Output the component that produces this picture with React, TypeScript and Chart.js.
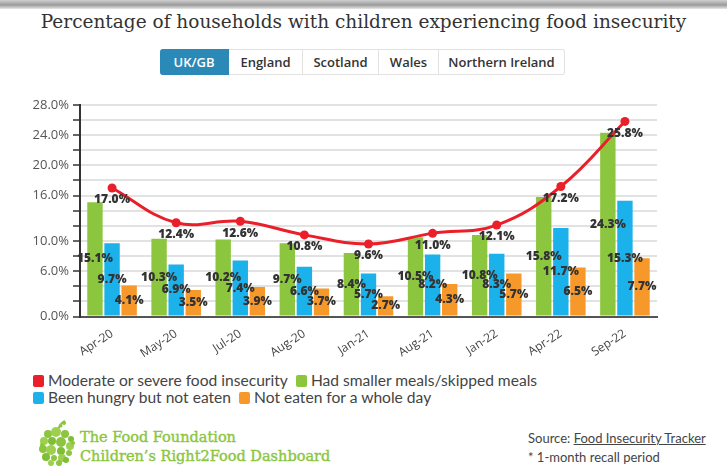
import React, { useEffect, useRef } from "react";
import { Chart, registerables } from "chart.js";

Chart.register(...registerables);

const categories = ["Apr-20", "May-20", "Jul-20", "Aug-20", "Jan-21", "Aug-21", "Jan-22", "Apr-22", "Sep-22"];
const moderateSevere = [17.0, 12.4, 12.6, 10.8, 9.6, 11.0, 12.1, 17.2, 25.8];
const smallerMeals = [15.1, 10.3, 10.2, 9.7, 8.4, 10.5, 10.8, 15.8, 24.3];
const hungryNotEaten = [9.7, 6.9, 7.4, 6.6, 5.7, 8.2, 8.3, 11.7, 15.3];
const notEatenDay = [4.1, 3.5, 3.9, 3.7, 2.7, 4.3, 5.7, 6.5, 7.7];
const seriesNames = [
  "Moderate or severe food insecurity",
  "Had smaller meals/skipped meals",
  "Been hungry but not eaten",
  "Not eaten for a whole day",
];
const seriesColors = ["#ea1f2a", "#8cc63f", "#1bb1ea", "#f7982b"];
const yTickLabels = [0, 6, 10, 16, 20, 24, 28];
const tabs = ["UK/GB", "England", "Scotland", "Wales", "Northern Ireland"];
const tabWidths = [69, 74, 76, 60, 126];

const valueLabels = {
  id: "valueLabels",
  afterDatasetsDraw(chart: any) {
    const ctx = chart.ctx;
    ctx.save();
    ctx.font = "800 12px 'Open Sans'";
    ctx.fillStyle = "#333";
    ctx.textAlign = "center";
    ctx.textBaseline = "middle";
    chart.data.datasets.forEach((ds: any, i: number) => {
      const meta = chart.getDatasetMeta(i);
      meta.data.forEach((el: any, j: number) => {
        const txt = Number(ds.data[j]).toFixed(1) + "%";
        if (meta.type === "line") {
          ctx.fillText(txt, el.x, el.y + 12);
        } else {
          ctx.fillText(txt, el.x, (el.y + el.base) / 2);
        }
      });
    });
    ctx.restore();
  },
};

function Logo() {
  const circles: [number, number, number, string][] = [
    [10, 14, 4, "#8cc63f"], [18, 12, 5, "#9dd04f"], [27, 14, 4, "#8cc63f"], [33, 19, 3, "#7fbf35"],
    [6, 21, 4, "#9dd04f"], [14, 21, 4, "#7fbf35"], [23, 22, 5, "#8cc63f"], [32, 26, 4, "#9dd04f"],
    [5, 29, 4, "#8cc63f"], [13, 30, 5, "#9dd04f"], [23, 31, 4, "#7fbf35"], [31, 33, 3, "#8cc63f"],
    [8, 37, 4, "#7fbf35"], [16, 38, 3, "#8cc63f"], [24, 38, 4, "#9dd04f"], [13, 43, 3, "#9dd04f"],
    [21, 43, 3, "#8cc63f"], [28, 40, 3, "#7fbf35"], [4, 25, 2, "#8cc63f"], [35, 23, 2, "#8cc63f"],
  ];
  return (
    <svg width="40" height="48" viewBox="0 0 40 48" style={{ position: "absolute", left: 38, top: 420 }}>
      <path d="M20 10 Q22 3 27 1" stroke="#8cc63f" strokeWidth="2" fill="none" />
      <circle cx="26" cy="3" r="2" fill="#8cc63f" />
      <circle cx="23" cy="6" r="1.5" fill="#8cc63f" />
      {circles.map((c, i) => (
        <circle key={i} cx={c[0]} cy={c[1]} r={c[2]} fill={c[3]} />
      ))}
    </svg>
  );
}

export default function App() {
  const canvasRef = useRef<HTMLCanvasElement | null>(null);

  useEffect(() => {
    if (!canvasRef.current) return;
    const chart = new Chart(canvasRef.current, {
      type: "bar",
      data: {
        labels: categories,
        datasets: [
          {
            type: "line",
            label: seriesNames[0],
            data: moderateSevere,
            borderColor: seriesColors[0],
            backgroundColor: seriesColors[0],
            borderWidth: 3,
            pointRadius: 4.5,
            pointBackgroundColor: seriesColors[0],
            pointBorderWidth: 0,
            tension: 0.4,
            order: 0,
          } as any,
          { label: seriesNames[1], data: smallerMeals, backgroundColor: seriesColors[1], order: 1 },
          { label: seriesNames[2], data: hungryNotEaten, backgroundColor: seriesColors[2], order: 1 },
          { label: seriesNames[3], data: notEatenDay, backgroundColor: seriesColors[3], order: 1 },
        ],
      },
      options: {
        animation: false,
        responsive: false,
        maintainAspectRatio: false,
        datasets: { bar: { categoryPercentage: 0.8, barPercentage: 0.9 } },
        layout: { padding: { top: 0, right: 13, left: 0, bottom: 0 } },
        scales: {
          x: {
            grid: { display: false },
            border: { display: true, color: "#555", width: 2 },
            ticks: {
              color: "#444",
              font: { family: "'Open Sans'", size: 12 },
              minRotation: 33,
              maxRotation: 33,
              padding: 2,
            },
          },
          y: {
            min: 0,
            max: 28,
            afterFit: (scale: any) => {
              scale.width = 55;
            },
            grid: { color: "#e2e2e2", lineWidth: 2, tickColor: "#333", tickLength: 7, tickWidth: 1.5 },
            border: { display: true, color: "#333", width: 2 },
            ticks: {
              stepSize: 2,
              autoSkip: false,
              color: "#555",
              padding: 4,
              font: { family: "'Open Sans'", size: 13 },
              callback: (v: any) => (yTickLabels.includes(Number(v)) ? Number(v).toFixed(1) + "%" : ""),
            },
          },
        },
        plugins: {
          tooltip: { enabled: false },
          legend: { display: false },
        },
      },
      plugins: [valueLabels],
    });
    return () => chart.destroy();
  }, []);

  let x = 160;
  return (
    <div style={{ position: "absolute", left: 0, top: 0, width: 727, height: 468, background: "#fff", overflow: "hidden" }}>
      <div
        style={{
          position: "absolute",
          left: 0,
          top: 0,
          width: 727,
          height: 9,
          background: "linear-gradient(to bottom, #d0d0d0 0%, #9a9a9a 55%, #e8e8e8 100%)",
        }}
      />
      <div
        style={{
          position: "absolute",
          left: 0,
          top: 9,
          width: 727,
          textAlign: "center",
          fontFamily: "'DejaVu Serif'",
          fontSize: 18.5,
          color: "#333",
          lineHeight: "26px",
        }}
      >
        Percentage of households with children experiencing food insecurity
      </div>
      {tabs.map((t, i) => {
        const left = x;
        x += tabWidths[i];
        const active = i === 0;
        return (
          <div
            key={t}
            style={{
              position: "absolute",
              left,
              top: 49,
              width: tabWidths[i],
              height: 26,
              boxSizing: "border-box",
              border: active ? "1px solid #2a89b7" : "1px solid #e2e2e2",
              borderLeft: i > 0 ? "none" : undefined,
              borderRadius: i === 0 ? "3px 0 0 3px" : i === tabs.length - 1 ? "0 3px 3px 0" : 0,
              background: active ? "#2a89b7" : "#fff",
              color: active ? "#fff" : "#333",
              fontFamily: "'Open Sans'",
              fontWeight: 600,
              fontSize: 13,
              lineHeight: "24px",
              textAlign: "center",
            }}
          >
            {t}
          </div>
        );
      })}
      <canvas
        ref={canvasRef}
        width={645}
        height={270}
        style={{ position: "absolute", left: 25, top: 93, width: 645, height: 270 }}
      />
      <div
        style={{
          position: "absolute",
          left: 33,
          top: 372,
          width: 580,
          display: "flex",
          flexWrap: "wrap",
          fontFamily: "Lato",
          fontSize: 15.6,
          color: "#444",
          lineHeight: "17px",
        }}
      >
        {seriesNames.map((n, i) => (
          <div key={n} style={{ display: "flex", alignItems: "center", marginRight: 8 }}>
            <span
              style={{
                display: "inline-block",
                width: 11,
                height: 12,
                borderRadius: 2,
                background: seriesColors[i],
                marginRight: 4,
              }}
            />
            <span>{n}</span>
          </div>
        ))}
      </div>
      <Logo />
      <div
        style={{
          position: "absolute",
          left: 80,
          top: 428,
          fontFamily: "'DejaVu Serif'",
          fontSize: 14.5,
          color: "#8cc63f",
          lineHeight: "19px",
          WebkitTextStroke: "0.4px #8cc63f",
        }}
      >
        <div>The Food Foundation</div>
        <div>Children’s Right2Food Dashboard</div>
      </div>
      <div
        style={{
          position: "absolute",
          left: 528,
          top: 429,
          fontFamily: "Lato",
          fontSize: 13,
          color: "#444",
          lineHeight: "19px",
        }}
      >
        <div>
          Source: <span style={{ textDecoration: "underline" }}>Food Insecurity Tracker</span>
        </div>
        <div>* 1-month recall period</div>
      </div>
    </div>
  );
}
